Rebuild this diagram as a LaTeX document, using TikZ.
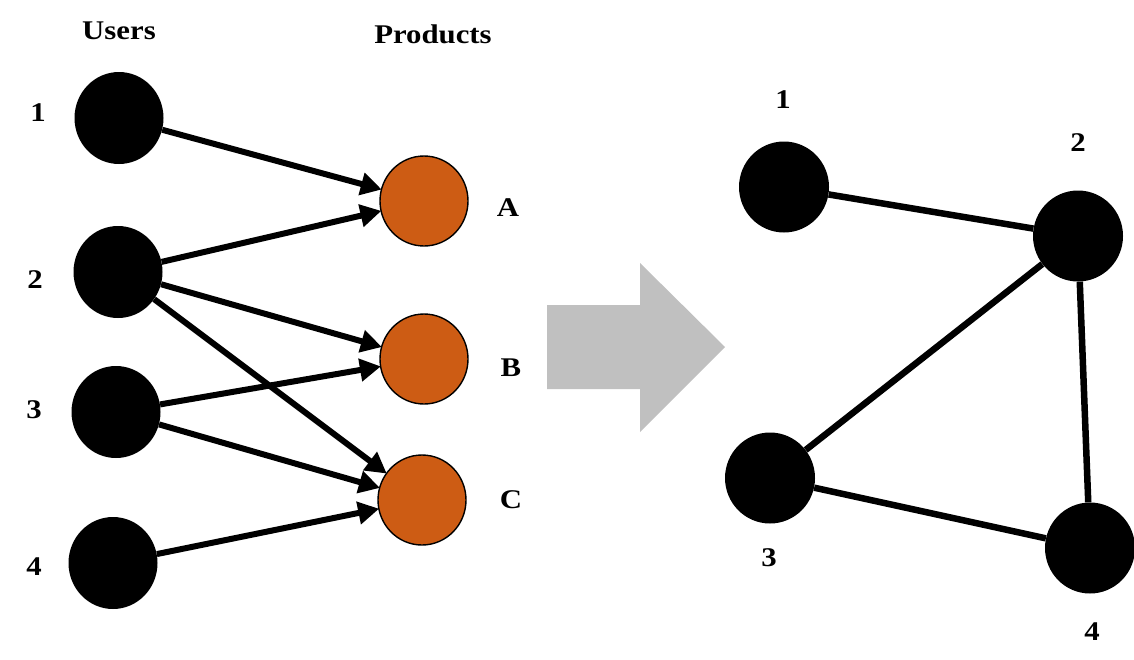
\documentclass[tikz,border=0pt]{standalone}
\usepackage{fontspec}
\setmainfont{Liberation Serif}
\newfontfamily\labelfont[FakeStretch=1.14]{Liberation Serif}
\usetikzlibrary{arrows.meta,shapes.geometric}
\definecolor{prodfill}{RGB}{205,92,20}
\definecolor{arrowgray}{RGB}{192,192,192}
\begin{document}
\begin{tikzpicture}[x=1pt,y=-1pt,
  user/.style={ellipse,fill=black,minimum width=89pt,minimum height=92pt,inner sep=0pt},
  product/.style={ellipse,fill=prodfill,draw=black,line width=1.4pt,minimum width=88pt,minimum height=90pt,inner sep=0pt},
  vertex/.style={ellipse,fill=black,minimum width=90pt,minimum height=91pt,inner sep=0pt},
  lbl/.style={font=\labelfont\fontsize{27}{31}\selectfont\bfseries,inner sep=0pt},
  link/.style={line width=6pt,-{Triangle[length=21pt,width=22pt]},shorten >=-1pt},
  edge/.style={line width=6.5pt}]
\useasboundingbox (0,0) rectangle (1134,659);

% bipartite graph: users and products
\node[lbl] (tu) at (119,31) {Users};
\node[lbl] (tp) at (433,34) {Products};

\node[user] (u1) at (119,118) {};
\node[user] (u2) at (118,272) {};
\node[user] (u3) at (116,412) {};
\node[user] (u4) at (113,563) {};
\node[lbl] (l1) at (38,113) {1};
\node[lbl] (l2) at (35,280) {2};
\node[lbl] (l3) at (34,410) {3};
\node[lbl] (l4) at (34,567) {4};

\node[product] (pa) at (424,201) {};
\node[product] (pb) at (424,359) {};
\node[product] (pc) at (422,500) {};
\node[lbl] (la) at (508,208) {A};
\node[lbl] (lb) at (511,368) {B};
\node[lbl] (lc) at (511,500) {C};

\draw[link] (u1) -- (pa);
\draw[link] (u2) -- (pa);
\draw[link] (u2) -- (pb);
\draw[link] (u2) -- (pc);
\draw[link] (u3) -- (pb);
\draw[link] (u3) -- (pc);
\draw[link] (u4) -- (pc);

% block arrow
\fill[arrowgray] (547,305) -- (640,305) -- (640,263) -- (725,347)
  -- (640,432) -- (640,389) -- (547,389) -- cycle;

% projected user graph
\node[vertex] (r1) at (784,187) {};
\node[vertex] (r2) at (1078,236) {};
\node[vertex] (r3) at (770,478) {};
\node[vertex] (r4) at (1090,548) {};
\node[lbl] (m1) at (783,100) {1};
\node[lbl] (m2) at (1078,143) {2};
\node[lbl] (m3) at (769,558) {3};
\node[lbl] (m4) at (1092,632) {4};

\draw[edge] (r1) -- (r2);
\draw[edge] (r2) -- (r3);
\draw[edge] (r2) -- (r4);
\draw[edge] (r3) -- (r4);
\end{tikzpicture}
\end{document}
